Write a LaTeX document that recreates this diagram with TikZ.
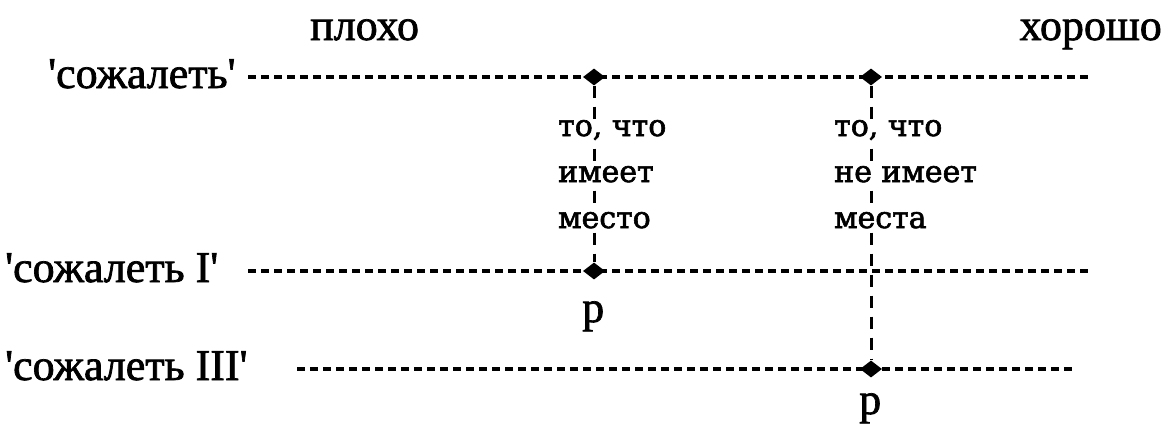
\documentclass[tikz,border=0pt]{standalone}
\usepackage{fontspec}
\newfontfamily\lblfont{Liberation Serif}[FakeBold=1.6]
\newfontfamily\txtfont{DejaVu Serif}[FakeBold=2]
\usetikzlibrary{shapes.geometric}
\tikzset{
  dline/.style={line width=3.2pt, dash pattern=on 8pt off 5pt},
  vline/.style={line width=3pt, dash pattern=on 12pt off 9pt},
  lab/.style={font=\lblfont\fontsize{44}{44}\selectfont, inner sep=0pt, anchor=base west},
  txt/.style={font=\txtfont\fontsize{30}{30}\selectfont, inner sep=1pt, fill=white, anchor=base west},
  dot/.style={diamond, fill=black, inner sep=0pt, minimum width=22pt, minimum height=17pt}
}
\begin{document}
\begin{tikzpicture}[x=1pt,y=-1pt]
\useasboundingbox (0,0) rectangle (1166,423);
% labels
\node[lab] (plokho) at (310,40) {плохо};
\node[lab, anchor=base east] (khorosho) at (1162,40) {хорошо};
\node[lab] (s0) at (48,88) {'сожалеть'};
\node[lab] (s1) at (5,282) {'сожалеть I'};
\node[lab] (s3) at (5,380) {'сожалеть III'};
% line end points
\coordinate (a0) at (248,77);
\coordinate (b0) at (1090,77);
\coordinate (a1) at (248,271);
\coordinate (b1) at (1090,271);
\coordinate (a3) at (297,369);
\coordinate (b3) at (1073,369);
% points
\node[dot] (d1) at (594,77) {};
\node[dot] (d2) at (871,77) {};
\node[dot] (d3) at (594,271) {};
\node[dot] (d4) at (871,369) {};
% horizontal lines
\draw[dline] (a0) -- (b0);
\draw[dline] (a1) -- (b1);
\draw[dline] (a3) -- (b3);
% vertical lines
\draw[vline] (d1) -- (d3);
\draw[vline] (d2) -- (d4);
% texts
\node[txt] (l1) at (557,136) {то, что};
\node[txt] (l2) at (557,182) {имеет};
\node[txt] (l3) at (557,228) {место};
\node[txt] (r1) at (833,136) {то, что};
\node[txt] (r2) at (833,182) {не имеет};
\node[txt] (r3) at (833,228) {места};
\node[lab] (p1) at (582,322) {p};
\node[lab] (p2) at (859,414) {p};
\end{tikzpicture}
\end{document}
